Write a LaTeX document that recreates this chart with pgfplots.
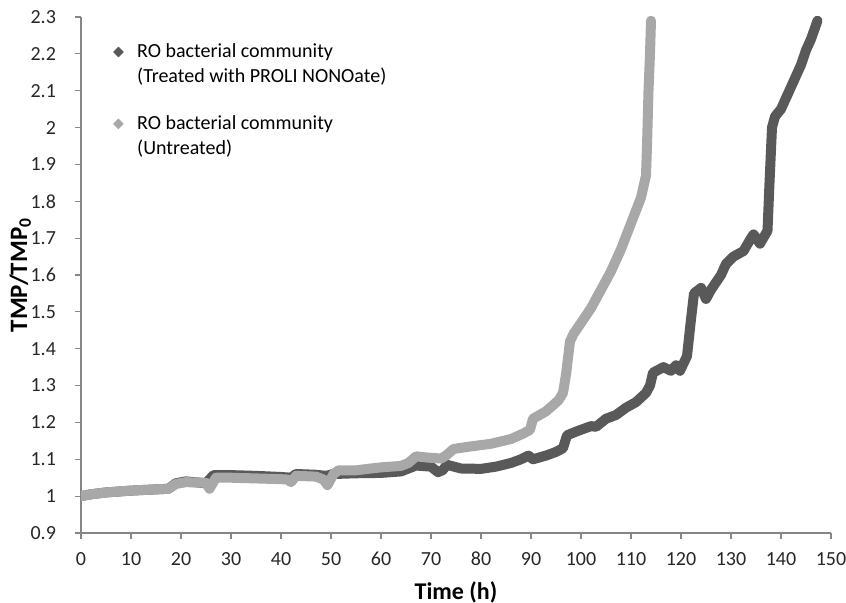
\documentclass[border=0pt]{standalone}
\usepackage{pgfplots}
\pgfplotsset{compat=1.18}
\usepackage{fontspec}
\setmainfont{Carlito}
\definecolor{darkser}{RGB}{89,89,89}
\definecolor{lightser}{RGB}{168,168,168}
\definecolor{axisgray}{RGB}{134,134,134}
\begin{document}
\begin{tikzpicture}
\begin{axis}[
  scale only axis, width=375pt, height=258pt,
  xmin=0, xmax=150, ymin=0.9, ymax=2.3,
  xtick={0,10,20,30,40,50,60,70,80,90,100,110,120,130,140,150},
  ytick={0.9,1.0,1.1,1.2,1.3,1.4,1.5,1.6,1.7,1.8,1.9,2.0,2.1,2.2,2.3},
  yticklabels={0.9,1,1.1,1.2,1.3,1.4,1.5,1.6,1.7,1.8,1.9,2,2.1,2.2,2.3},
  axis x line*=bottom, axis y line*=left,
  axis line style={axisgray, line width=0.6pt},
  tick align=outside, major tick length=3pt,
  every tick/.style={axisgray, line width=0.6pt},
  /pgf/number format/assume math mode=true,
  tick label style={font=\fontsize{10}{12}\selectfont, text=black!85},
  xticklabel style={anchor=base, yshift=-13.5pt},
  yticklabel style={anchor=east, xshift=-6pt},
  xlabel={\textbf{Time (h)}},
  ylabel={\textbf{TMP/TMP\textsubscript{0}}},
  xlabel style={font=\fontsize{12}{14}\selectfont, at={(axis description cs:0.5,-0.1143)}, anchor=center},
  ylabel style={font=\fontsize{12.5}{14}\selectfont, at={(axis description cs:-0.081,0.5)}, anchor=center},
  legend cell align=left,
  legend style={at={(axis description cs:0.035,0.965)}, anchor=north west, draw=none, fill=none,
    font=\fontsize{10}{12.5}\selectfont, nodes={align=left}, row sep=11pt, column sep=5pt},
]
\addplot[darkser, line width=5pt, line join=round, line cap=round,
  legend image code/.code={\draw[darkser, fill=darkser, line width=0.4pt] plot[mark=diamond*, mark size=2.4pt, mark options={xscale=1.33}] coordinates {(0.25cm,6.2pt)};}]
coordinates {
(0,1.0)(2,1.005)(5,1.01)(10,1.015)(17.5,1.02)(19,1.035)(21,1.04)(25,1.035)(26.5,1.057)(30,1.057)(35,1.055)(40,1.052)(42,1.05)(43,1.06)(47,1.058)(49,1.055)(50.5,1.06)(55,1.062)(60,1.063)(64,1.067)(65.5,1.075)(67,1.083)(70,1.08)(71.4,1.065)(72.3,1.07)(73.2,1.085)(76,1.075)(80,1.074)(83,1.08)(86,1.09)(88,1.10)(89.5,1.11)(90.4,1.10)(93,1.11)(95,1.12)(96.4,1.13)(97.2,1.165)(99,1.175)(100,1.18)(102,1.19)(103,1.188)(105,1.21)(107,1.22)(109,1.24)(111,1.255)(113,1.28)(113.8,1.30)(114.4,1.335)(116.5,1.35)(118,1.34)(119,1.355)(119.8,1.34)(121.2,1.38)(122,1.48)(122.6,1.55)(124,1.565)(125,1.535)(126,1.56)(128,1.60)(129,1.63)(130.5,1.65)(132.5,1.665)(134,1.70)(134.5,1.71)(135.8,1.685)(137.3,1.72)(137.7,1.85)(138.2,2.0)(138.8,2.03)(140,2.05)(141,2.08)(142,2.11)(144,2.17)(145,2.21)(146,2.24)(147.3,2.29)
};
\addlegendentry{RO bacterial community\\(Treated with PROLI NONOate)}
\addplot[lightser, line width=5pt, line join=round, line cap=round,
  legend image code/.code={\draw[lightser, fill=lightser, line width=0.4pt] plot[mark=diamond*, mark size=2.4pt, mark options={xscale=1.33}] coordinates {(0.25cm,6.2pt)};}]
coordinates {
(0,1.0)(2,1.005)(5,1.01)(10,1.015)(17.5,1.02)(19,1.033)(21,1.038)(25,1.036)(25.7,1.02)(27,1.05)(30,1.05)(35,1.048)(40,1.046)(41.3,1.045)(42,1.038)(43,1.055)(47,1.053)(48.5,1.045)(49.3,1.03)(50.5,1.06)(51.5,1.07)(55,1.07)(58,1.075)(60,1.078)(64,1.082)(65.5,1.09)(67,1.108)(69,1.105)(72,1.102)(73,1.11)(74.5,1.128)(78,1.135)(82,1.142)(86,1.155)(88.5,1.17)(89.8,1.18)(90.4,1.21)(93,1.23)(95.5,1.26)(96.4,1.28)(97,1.33)(97.8,1.42)(98.5,1.44)(100,1.47)(102,1.51)(104,1.56)(106,1.61)(108,1.67)(110,1.74)(112,1.81)(113,1.87)(113.2,1.95)(113.5,2.1)(113.8,2.2)(114,2.29)
};
\addlegendentry{RO bacterial community\\(Untreated)}
\end{axis}
\pgfresetboundingbox
\path ([shift={(-40.5pt,-35pt)}]current axis.south west) rectangle ([shift={(7.5pt,8.5pt)}]current axis.north east);
\end{tikzpicture}
\end{document}
